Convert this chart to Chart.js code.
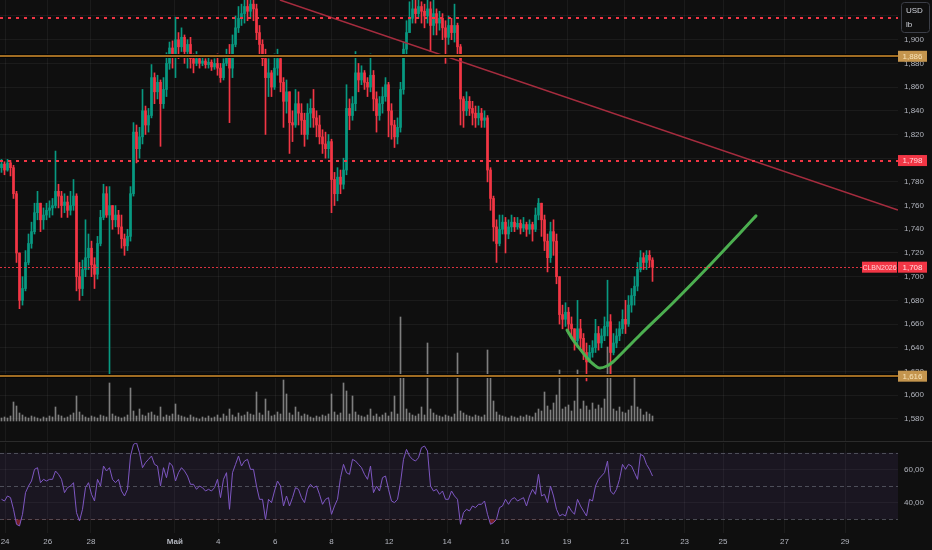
<!DOCTYPE html>
<html><head><meta charset="utf-8">
<script src="https://cdn.jsdelivr.net/npm/chart.js@4.4.1/dist/chart.umd.min.js"></script>
<style>
html,body{margin:0;padding:0;background:#0f0f0f;width:932px;height:550px;overflow:hidden}
#main{position:absolute;left:0;top:0;width:932px;height:441px}
#sep{position:absolute;left:0;top:441px;width:932px;height:1px;background:#2b2b2b}
#rsi{position:absolute;left:0;top:442px;width:932px;height:108px}
</style></head><body>
<div id="main"><canvas id="c1"></canvas></div>
<div id="sep"></div>
<div id="rsi"><canvas id="c2"></canvas></div>
<script>
// ---------- DATA ----------
const symbol = 'CLBN2026';
const firstOpen = 1792;
const closes = [1795,1790,1796,1792,1770,1720,1680,1690,1712,1728,
 1738,1754,1762,1748,1752,1756,1758,1760,1772,1768,
 1760,1763,1756,1760,1768,1700,1690,1706,1716,1724,
 1710,1702,1728,1750,1770,1752,1760,1748,1752,1742,
 1732,1726,1734,1770,1822,1808,1818,1840,1828,1836,
 1868,1856,1864,1846,1858,1880,1893,1885,1900,1894,
 1902,1890,1896,1884,1880,1884,1880,1882,1879,1881,
 1877,1880,1876,1868,1880,1886,1876,1896,1910,1918,
 1922,1928,1924,1930,1926,1906,1896,1884,1868,1872,
 1860,1876,1884,1864,1848,1856,1830,1828,1846,1838,
 1832,1820,1838,1842,1834,1828,1818,1812,1808,1814,
 1782,1770,1784,1778,1790,1842,1836,1846,1872,1866,
 1872,1864,1860,1870,1850,1836,1846,1852,1862,1840,
 1828,1818,1826,1858,1892,1906,1918,1926,1922,1928,
 1924,1920,1926,1912,1922,1914,1918,1910,1902,1912,
 1906,1912,1894,1850,1840,1848,1842,1838,1834,1838,
 1832,1834,1790,1766,1742,1728,1740,1746,1736,1742,
 1746,1742,1745,1741,1744,1740,1744,1740,1752,1762,
 1748,1730,1716,1738,1730,1700,1668,1664,1670,1660,
 1656,1646,1656,1648,1636,1628,1636,1640,1652,1644,
 1650,1658,1662,1636,1644,1650,1656,1664,1660,1676,
 1684,1692,1706,1716,1712,1718,1714,1708];
const highs = [1799,1797,1799,1798,1794,1772,1700,1700,1722,1736,
 1746,1762,1772,1760,1758,1762,1764,1766,1806,1778,
 1772,1770,1768,1772,1782,1770,1712,1714,1748,1736,
 1730,1716,1734,1756,1778,1776,1776,1760,1760,1756,
 1752,1736,1740,1776,1830,1828,1826,1858,1844,1842,
 1879,1872,1870,1866,1868,1889,1898,1899,1919,1906,
 1910,1904,1900,1902,1888,1890,1886,1887,1884,1885,
 1883,1884,1888,1880,1884,1892,1896,1904,1920,1928,
 1930,1934,1934,1936,1936,1930,1912,1900,1892,1884,
 1874,1888,1892,1886,1868,1866,1850,1840,1858,1856,
 1846,1838,1846,1850,1858,1840,1836,1824,1822,1820,
 1816,1788,1792,1790,1800,1862,1850,1852,1890,1880,
 1878,1874,1868,1888,1874,1856,1852,1860,1868,1864,
 1846,1832,1834,1864,1898,1916,1932,1934,1934,1934,
 1932,1930,1934,1932,1934,1926,1924,1922,1916,1920,
 1918,1930,1914,1896,1852,1856,1852,1848,1844,1844,
 1842,1840,1836,1792,1768,1748,1752,1752,1750,1748,
 1752,1750,1750,1748,1750,1746,1748,1746,1758,1766,
 1762,1752,1736,1746,1748,1736,1700,1676,1678,1674,
 1666,1656,1680,1664,1652,1644,1642,1646,1664,1658,
 1656,1666,1697,1668,1652,1656,1662,1672,1680,1684,
 1690,1700,1712,1722,1720,1722,1722,1716];
const lows = [1788,1786,1789,1785,1766,1712,1673,1676,1688,1710,
 1724,1736,1748,1738,1740,1748,1750,1752,1758,1758,
 1750,1754,1750,1752,1756,1688,1680,1684,1700,1706,
 1700,1690,1698,1726,1748,1750,1616,1740,1742,1736,
 1724,1718,1722,1730,1768,1796,1800,1812,1820,1822,
 1834,1846,1850,1810,1842,1852,1875,1876,1868,1884,
 1890,1880,1876,1876,1872,1878,1876,1878,1876,1876,
 1874,1875,1870,1864,1866,1878,1830,1868,1894,1906,
 1912,1914,1916,1918,1916,1900,1888,1878,1820,1852,
 1852,1858,1870,1856,1826,1838,1804,1814,1826,1828,
 1820,1810,1816,1826,1826,1818,1812,1804,1800,1800,
 1754,1760,1764,1770,1774,1786,1824,1832,1840,1856,
 1862,1858,1852,1856,1840,1822,1832,1838,1848,1818,
 1816,1809,1812,1822,1854,1886,1908,1914,1914,1918,
 1914,1910,1914,1890,1904,1904,1908,1900,1880,1896,
 1900,1898,1886,1828,1826,1836,1836,1828,1826,1828,
 1826,1826,1780,1756,1730,1712,1726,1736,1720,1732,
 1738,1738,1740,1736,1738,1734,1736,1730,1738,1748,
 1734,1722,1704,1712,1718,1694,1660,1656,1658,1652,
 1648,1638,1640,1640,1630,1612,1628,1632,1636,1638,
 1640,1646,1650,1615,1634,1640,1646,1652,1652,1658,
 1670,1676,1688,1704,1706,1706,1708,1696];
const volumes = [3,4,3,5,19,15,8,6,4,3,
 5,4,3,2,4,3,5,4,14,6,
 5,3,4,6,8,25,9,6,4,3,
 5,4,3,6,5,4,38,7,5,4,
 3,4,6,33,10,5,12,6,5,8,
 9,6,5,14,4,6,5,7,17,6,
 5,4,3,6,4,3,2,4,3,5,
 3,4,6,3,7,5,12,6,4,8,
 5,6,9,7,6,29,8,6,22,10,
 5,6,9,7,41,27,8,6,14,9,
 5,7,6,4,3,5,4,6,5,7,
 27,9,6,8,38,30,7,25,9,6,
 5,4,6,12,5,7,4,6,8,5,
 9,25,7,104,45,12,8,6,5,7,
 14,6,78,12,8,6,5,4,6,5,
 4,7,68,10,8,6,5,4,6,5,
 4,6,71,44,20,9,6,5,4,3,
 5,4,3,5,4,6,5,4,8,12,
 10,29,15,11,18,26,51,12,14,16,
 10,20,51,12,20,15,11,18,12,16,
 13,22,74,56,12,10,14,9,8,11,
 15,46,14,12,6,9,7,5];
const rsi = [42,41,44,43,36,27,26,33,46,50,
 53,60,61,52,54,53,54,54,59,57,
 54,46,49,50,52,34,29,36,49,52,
 45,41,54,50,62,59,61,54,52,54,
 47,44,48,68,75,76,70,61,64,66,
 68,63,62,50,61,55,64,62,53,58,
 61,59,56,51,51,48,50,49,47,48,
 47,49,54,43,54,58,36,58,63,68,
 62,65,66,60,60,50,42,42,30,42,
 40,47,53,50,38,44,38,43,49,48,
 43,40,48,51,49,50,45,39,42,43,
 33,38,42,55,63,58,57,66,65,63,
 61,57,54,62,46,50,47,55,56,48,
 41,40,42,52,66,72,68,66,65,67,
 73,74,71,50,47,48,45,47,42,42,
 47,44,42,27,34,36,35,38,37,39,
 39,41,33,27,28,30,37,38,42,39,
 42,43,41,42,43,38,44,48,45,57,
 44,45,40,50,44,36,32,33,32,38,
 35,33,42,38,35,32,42,41,50,54,
 56,58,65,47,45,48,54,63,60,63,
 62,58,54,69,68,63,60,56];
const dateLabels = ['24','26','28','Май','4','6','8','12','14','16','19','21','23','25','27','29'];
const dateTicks = [1.2,15.4,29.8,57.8,72.2,91.2,110,129.2,148.5,167.8,188.5,207.8,227.7,240.5,261,281.2];
const priceTicks = [1580,1600,1620,1640,1660,1680,1700,1720,1740,1760,1780,1800,1820,1840,1860,1880,1900,1920];
const rsiTicks = [40,60];
const rsiBands = [70,50,30];
const dottedLevels = [1918,1798];
const orangeLevels = [1886,1616];
const lastPrice = 1708;
const trendX = [92.8, 298.8];
const trendY = [1933.5, 1756.3];
const arcX = [188.5,190.5,192.8,195.2,197.2,199.5,201.8,203.8,206.2,208.5,212.8,223.8,235.2,246.2,251.5];
const arcY = [1655.0,1646.6,1639.0,1631.4,1626.3,1622.9,1624.6,1628.0,1633.9,1639.8,1650.8,1677.8,1707.3,1736.9,1751.3];

// ---------- STYLE ----------
const UP='#089981', DN='#f23645', RED='#f23645', ORANGE='#a06c22', ORANGE_LBL='#c4954e';
const GRID='rgba(242,242,242,0.055)', TXT='#b2b5be';
const FONT="'Liberation Sans', Arial, sans-serif";
const X_MIN=-0.5, X_MAX=298.83;
const P_MIN=1561.3, P_MAX=1933.5;

const opens = closes.map((c,i)=> i===0 ? firstOpen : closes[i-1]);
const colorOf = i => closes[i] >= opens[i] ? UP : DN;
const fmtPrice = v => { const s=String(Math.round(v)); return s[0]+','+s.slice(1); };

function hline(ctx,x0,x1,y){ctx.beginPath();ctx.moveTo(x0,y);ctx.lineTo(x1,y);ctx.stroke();}
function box(ctx,x,y,w,h,bg,text,fg,size){
  ctx.fillStyle=bg; ctx.fillRect(x,y,w,h);
  ctx.fillStyle=fg; ctx.font=size+'px '+FONT; ctx.textBaseline='middle'; ctx.textAlign='center';
  ctx.fillText(text,x+w/2,y+h/2+0.5);
}

const levelsPlugin = {
  id:'levels',
  afterDatasetsDraw(chart){
    const {ctx, chartArea:a, scales:{y}} = chart;
    ctx.save();
    ctx.beginPath(); ctx.rect(a.left,a.top,a.right-a.left,a.bottom-a.top); ctx.clip();
    ctx.strokeStyle=RED; ctx.lineWidth=2; ctx.setLineDash([3,5]);
    dottedLevels.forEach(p=>hline(ctx,a.left,a.right,Math.round(y.getPixelForValue(p))));
    ctx.setLineDash([]);
    orangeLevels.forEach(p=>{
      const py=Math.round(y.getPixelForValue(p));
      ctx.strokeStyle='#050505'; ctx.lineWidth=4; hline(ctx,a.left,a.right,py);
      ctx.strokeStyle=ORANGE; ctx.lineWidth=2; hline(ctx,a.left,a.right,py);
    });
    ctx.strokeStyle='rgba(242,54,69,0.9)'; ctx.lineWidth=1; ctx.setLineDash([2,2]);
    hline(ctx,a.left,862,Math.round(y.getPixelForValue(lastPrice))+0.5);
    ctx.restore();
  },
  afterDraw(chart){
    const {ctx, chartArea:a, scales:{y}} = chart;
    ctx.save();
    const L=a.right, W=29, H=11;
    orangeLevels.forEach(p=>{const py=y.getPixelForValue(p); box(ctx,L,py-H/2,W,H,ORANGE_LBL,fmtPrice(p),'#f7e3b8',8);});
    dottedLevels.slice(1).forEach(p=>{const py=y.getPixelForValue(p); box(ctx,L,py-H/2,W,H,RED,fmtPrice(p),'#ffd9dc',8);});
    const lp=y.getPixelForValue(lastPrice);
    box(ctx,L,lp-H/2,W,H,RED,fmtPrice(lastPrice),'#ffe0e2',8);
    box(ctx,862,lp-H/2,35,H,RED,symbol,'#ffd0d4',7);
    ctx.fillStyle='#0f0f0f'; ctx.strokeStyle='#3c3f48'; ctx.lineWidth=1;
    ctx.beginPath(); ctx.roundRect(901.5,2.5,28,30,3); ctx.fill(); ctx.stroke();
    ctx.fillStyle='#d1d4dc'; ctx.font='8px '+FONT; ctx.textAlign='left'; ctx.textBaseline='middle';
    ctx.fillText('USD',906,10.5); ctx.fillText('lb',906,25);
    ctx.restore();
  }
};

const rsiPlugin = {
  id:'rsiBand',
  beforeDatasetsDraw(chart){
    const {ctx, chartArea:a, scales:{y}} = chart;
    ctx.save();
    const y70=y.getPixelForValue(70), y30=y.getPixelForValue(30);
    ctx.fillStyle='rgba(126,87,194,0.1)'; ctx.fillRect(a.left,y70,a.right-a.left,y30-y70);
    ctx.strokeStyle='rgba(120,123,134,0.55)'; ctx.lineWidth=1; ctx.setLineDash([4,3]);
    rsiBands.forEach(v=>hline(ctx,a.left,a.right,Math.round(y.getPixelForValue(v))+0.5));
    ctx.restore();
  }
};

const xBase = {type:'linear', min:X_MIN, max:X_MAX, offset:false,
  grid:{color:GRID, drawTicks:false, offset:false}, border:{display:false},
  afterBuildTicks: s=>{ s.ticks = dateTicks.map(v=>({value:v})); }};

new Chart(document.getElementById('c1'), {
  type:'bar',
  data:{datasets:[
    {type:'line', data: trendX.map((x,i)=>({x, y:trendY[i]})), borderColor:'#a52c3e', borderWidth:1.5, pointRadius:0, order:1},
    {type:'line', data: arcX.map((x,i)=>({x, y:arcY[i]})), borderColor:'#4caf50', borderWidth:3, pointRadius:0, cubicInterpolationMode:'monotone', borderCapStyle:'round', borderJoinStyle:'round', order:1},
    {data: closes.map((c,i)=>({x:i, y:[opens[i], c]})), backgroundColor: c=>colorOf(c.dataIndex), barThickness:2, minBarLength:1, grouped:false, order:4},
    {data: closes.map((c,i)=>({x:i, y:[Math.min(lows[i],opens[i],c), Math.max(highs[i],opens[i],c)]})), backgroundColor: c=>colorOf(c.dataIndex), barThickness:1, grouped:false, order:5},
    {data: volumes.map((v,i)=>({x:i, y:v})), yAxisID:'v', backgroundColor:'rgba(200,200,200,0.6)', barThickness:1, grouped:false, order:10}
  ]},
  options:{
    responsive:true, maintainAspectRatio:false, animation:false, layout:{padding:0},
    plugins:{legend:{display:false}, tooltip:{enabled:false}},
    scales:{
      x:Object.assign({}, xBase, {ticks:{display:false}, afterFit: s=>{s.height=0; s.paddingLeft=0; s.paddingRight=0;}}),
      y:{position:'right', min:P_MIN, max:P_MAX, grid:{color:GRID, drawTicks:false}, border:{display:false},
         ticks:{color:TXT, font:{size:8, family:FONT}, padding:6, callback: v=>fmtPrice(v)},
         afterBuildTicks: s=>{ s.ticks = priceTicks.map(v=>({value:v})); },
         afterFit: s=>{ s.width=34; s.paddingTop=0; s.paddingBottom=0; }},
      v:{display:false, min:-20, max:421}
    }
  },
  plugins:[levelsPlugin]
});

new Chart(document.getElementById('c2'), {
  type:'line',
  data:{datasets:[{data: rsi.map((v,i)=>({x:i, y:v})), borderColor:'#7e57c2', borderWidth:1, pointRadius:0,
    fill:{target:{value:30}, above:'transparent', below:'rgba(242,54,69,0.45)'}}]},
  options:{
    responsive:true, maintainAspectRatio:false, animation:false, layout:{padding:{top:1}},
    plugins:{legend:{display:false}, tooltip:{enabled:false}},
    scales:{
      x:Object.assign({}, xBase, {ticks:{color:TXT, padding:4, maxRotation:0, autoSkip:false,
          font: c=>({size:8, family:FONT, weight: dateLabels[c.index]==='Май' ? 'bold' : 'normal'}),
          callback:(v,i)=>dateLabels[i]},
        afterFit: s=>{s.height=17; s.paddingLeft=0; s.paddingRight=0;}}),
      y:{position:'right', min:21.77, max:75.83, grid:{color:GRID, drawTicks:false}, border:{display:false},
         ticks:{color:TXT, font:{size:8, family:FONT}, padding:6, callback: v=>v.toFixed(2).replace('.',',')},
         afterBuildTicks: s=>{ s.ticks = rsiTicks.map(v=>({value:v})); },
         afterFit: s=>{ s.width=34; s.paddingTop=0; s.paddingBottom=0; }}
    }
  },
  plugins:[rsiPlugin]
});
</script></body></html>
